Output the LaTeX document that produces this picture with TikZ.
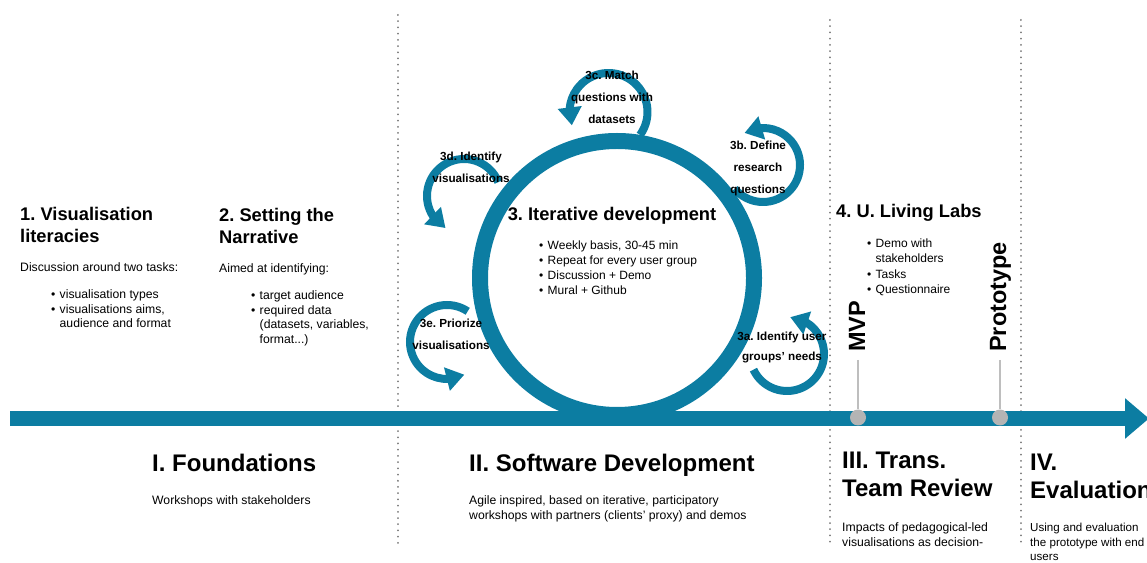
\documentclass[tikz,border=0pt]{standalone}
\usepackage{fontspec}
\setmainfont{Liberation Sans}
\frenchspacing
\usetikzlibrary{arrows.meta,bending}
\definecolor{teal}{RGB}{12,125,162}
\definecolor{dotgray}{RGB}{120,120,120}
\definecolor{stemgray}{RGB}{190,190,190}
\definecolor{dotfill}{RGB}{180,180,180}
\newcommand{\bul}{\makebox[8.5pt][l]{\textbullet}}
\newcommand{\nob}{\hspace*{8.5pt}}
\tikzset{
  head/.style={font=\bfseries\fontsize{18.3}{22}\selectfont, inner sep=0pt, align=left, anchor=north west},
  body/.style={font=\fontsize{12.2}{14.5}\selectfont, inner sep=0pt, align=left, anchor=north west},
  looplabel/.style={font=\bfseries\fontsize{11.7}{22}\selectfont, inner sep=0pt, align=center, anchor=north},
  phase/.style={font=\bfseries\fontsize{24}{28}\selectfont, inner sep=0pt, align=left, anchor=north west},
  milestonelabel/.style={font=\bfseries\fontsize{23.5}{28}\selectfont, inner sep=0pt, rotate=90, anchor=base west},
  divider/.style={dotgray, line width=2pt, dash pattern=on 0.01pt off 6.2pt, line cap=round},
  loopstroke/.style={teal, line width=8pt, -{Triangle[width=23pt,length=18pt,flex]}},
  stem/.style={stemgray, line width=1.5pt},
  milestone/.style={circle, fill=dotfill, minimum size=16pt, inner sep=0pt},
}
\begin{document}
\begin{tikzpicture}[x=1pt,y=1pt]
\useasboundingbox (0,0) rectangle (1147,562);
% dotted dividers
\coordinate (d1t) at (398,547); \coordinate (d1b) at (398,17);
\coordinate (d2t) at (830,542); \coordinate (d2b) at (830,17);
\coordinate (d3t) at (1021,542); \coordinate (d3b) at (1021,17);
\draw[divider] (d1t) -- (d1b);
\draw[divider] (d2t) -- (d2b);
\draw[divider] (d3t) -- (d3b);
% timeline
\coordinate (axisstart) at (10,143.5);
\coordinate (axisend) at (1149,143.5);
\draw[teal, line width=15pt, -{Triangle[width=39pt,length=24pt]}] (axisstart) -- (axisend);
% big cycle
\node[circle, draw=teal, line width=16pt, minimum size=274pt, inner sep=0pt] (cycle) at (617,284) {};
% loops
\draw[loopstroke] (608.5,450) ++(-36:39) arc[start angle=-36, end angle=200, radius=39];
\draw[loopstroke] (763,397) ++(-140:37) arc[start angle=-140, end angle=120, radius=37];
\draw[loopstroke] (464,366) ++(22:37) arc[start angle=22, end angle=240, radius=37];
\draw[loopstroke] (447,220) ++(56:37) arc[start angle=56, end angle=298, radius=37];
\draw[loopstroke] (787,208) ++(-155:37) arc[start angle=-155, end angle=85, radius=37];
% loop labels
\node[looplabel] (l3c) at (612,491.3) {3c. Match\\questions with\\datasets};
\node[looplabel] (l3b) at (758,421.3) {3b. Define\\research\\questions};
\node[looplabel] (l3d) at (471,410.3) {3d. Identify\\visualisations};
\node[looplabel] (l3e) at (451,243.3) {3e. Priorize\\visualisations};
\node[looplabel, font=\bfseries\fontsize{11.7}{20}\selectfont] (l3a) at (782,230.3) {3a. Identify user\\groups' needs};
% section 1
\node[head] (h1) at (20,355) {1. Visualisation\\literacies};
\node[body] (b1) at (20,299.3) {Discussion around two tasks:};
\node[body] (list1) at (51,272.3) {\bul visualisation types\\\bul visualisations aims,\\\nob audience and format};
% section 2
\node[head] (h2) at (219,354) {2. Setting the\\Narrative};
\node[body] (b2) at (219,298.3) {Aimed at identifying:};
\node[body] (list2) at (251,271.3) {\bul target audience\\\bul required data\\\nob (datasets, variables,\\\nob format...)};
% section 3
\node[head, anchor=north] (h3) at (612,355) {3. Iterative development};
\node[body, font=\fontsize{12}{15}\selectfont] (list3) at (539,321.3) {\bul Weekly basis, 30-45 min\\\bul Repeat for every user group\\\bul Discussion + Demo\\\bul Mural + Github};
% section 4
\node[head] (h4) at (836,358) {4. U. Living Labs};
\node[body, font=\fontsize{12}{15.3}\selectfont] (list4) at (867,323.3) {\bul Demo with\\\nob stakeholders\\\bul Tasks\\\bul Questionnaire};
% milestones
\node[milestonelabel] (mvp) at (865,210) {MVP};
\node[milestonelabel] (proto) at (1006,210) {Prototype};
\node[milestone] (mvpdot) at (858,144.5) {};
\node[milestone] (protodot) at (1000,144.5) {};
\coordinate (mvptop) at (858,202);
\coordinate (prototop) at (1000,202);
\draw[stem] (mvptop) -- (mvpdot.north);
\draw[stem] (prototop) -- (protodot.north);
% phases
\node[phase] (p1) at (152,108.3) {I. Foundations};
\node[body] (pd1) at (152,66.3) {Workshops with stakeholders};
\node[phase] (p2) at (469,108.3) {II. Software Development};
\node[body] (pd2) at (469,66.3) {Agile inspired, based on iterative, participatory\\workshops with partners (clients' proxy) and demos};
\node[phase] (p3) at (842,110.3) {III. Trans.\\Team Review};
\node[body] (pd3) at (842,39.3) {Impacts of pedagogical-led\\visualisations as decision-};
\node[phase] (p4) at (1030,108.3) {IV.\\Evaluation};
\node[body, font=\fontsize{11.6}{14.5}\selectfont] (pd4) at (1030,38.8) {Using and evaluation\\the prototype with end\\users};
\end{tikzpicture}
\end{document}
